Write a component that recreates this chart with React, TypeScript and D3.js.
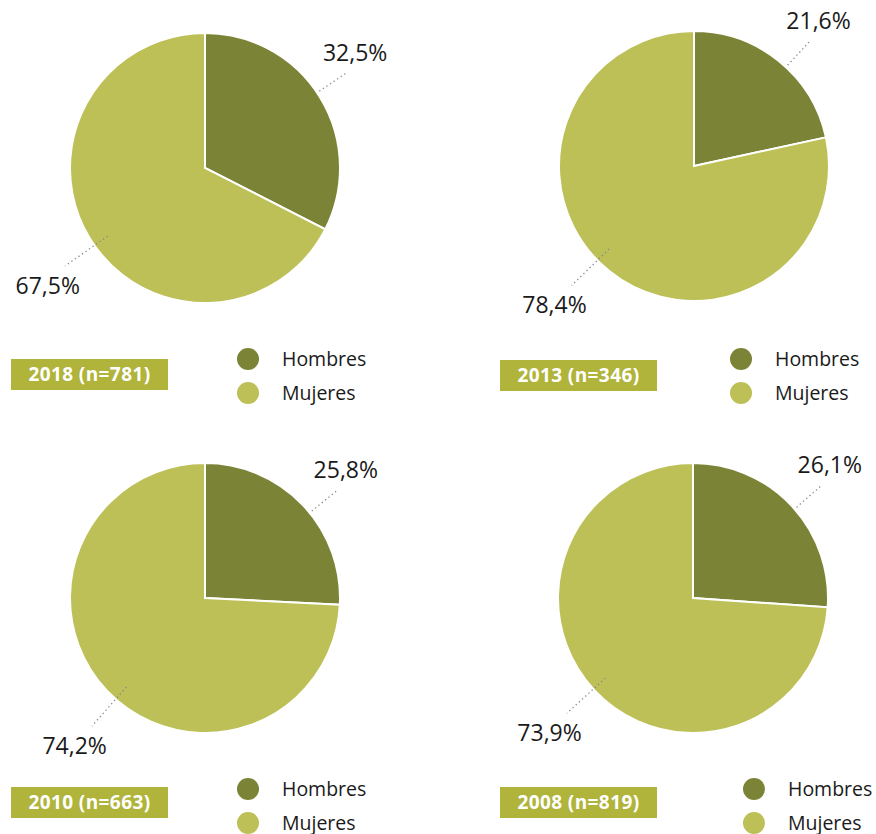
import React from "react";
import * as d3 from "d3";

const years = ["2018", "2013", "2010", "2008"];
const sampleSizes = [781, 346, 663, 819];
const categories = ["Hombres", "Mujeres"];
const hombres = [32.5, 21.6, 25.8, 26.1];
const mujeres = [67.5, 78.4, 74.2, 73.9];

const colors = ["#7b8436", "#bcc056"];
const boxColor = "#b0b43a";
const font = "'Open Sans', 'Noto Sans', sans-serif";

// layout of each panel: pie center, title box origin, legend origin, leader-angle nudges (deg)
const panels = [
  { cx: 205, cy: 168, bx: 11, by: 359, lx: 248, ly: 359, nudge: [-2.4, -3.5] },
  { cx: 694, cy: 166, bx: 500, by: 360, lx: 741, ly: 359, nudge: [4, 6.8] },
  { cx: 205, cy: 598, bx: 11, by: 787, lx: 248, ly: 789, nudge: [4.4, -5] },
  { cx: 693, cy: 598, bx: 500, by: 787, lx: 754, ly: 789, nudge: [1.8, 0.6] },
];
const R = 135;

const fmt = (v: number) => v.toFixed(1).replace(".", ",") + "%";

function Panel({ i }: { i: number }) {
  const p = panels[i];
  const values = [hombres[i], mujeres[i]];
  const pie = d3.pie<number>().sort(null).value((d) => d)(values);
  const arc = d3.arc<d3.PieArcDatum<number>>().innerRadius(0).outerRadius(R);
  return (
    <g>
      <g transform={`translate(${p.cx},${p.cy})`}>
        {pie.map((s, k) => (
          <path key={k} d={arc(s) || ""} fill={colors[k]} stroke="#fff" strokeWidth={2} />
        ))}
        {pie.map((s, k) => {
          const a = (s.startAngle + s.endAngle) / 2 + (p.nudge[k] * Math.PI) / 180;
          const r0 = k === 0 ? R * 1.02 : R * 0.88;
          const r1 = 171;
          const x0 = Math.sin(a) * r0, y0 = -Math.cos(a) * r0;
          const x1 = Math.sin(a) * r1, y1 = -Math.cos(a) * r1;
          const tx = k === 0 ? x1 - 24 : x1 + 15;
          const ty = k === 0 ? y1 - 12 : y1 + 28;
          return (
            <g key={"l" + k}>
              <line x1={x0} y1={y0} x2={x1} y2={y1} stroke="#888" strokeWidth={1.3} strokeDasharray="1.3 3" />
              <text x={tx} y={ty} textAnchor={k === 0 ? "start" : "end"} fontFamily={font} fontSize={23} fill="#1a1a1a">
                {fmt(values[k])}
              </text>
            </g>
          );
        })}
      </g>
      <rect x={p.bx} y={p.by} width={157} height={31} fill={boxColor} />
      <text x={p.bx + 78.5} y={p.by + 22} textAnchor="middle" fontFamily={font} fontWeight={700} fontSize={19} letterSpacing={0.4} fill="#fff">
        {`${years[i]} (n=${sampleSizes[i]})`}
      </text>
      {categories.map((c, k) => (
        <g key={c}>
          <circle cx={p.lx} cy={p.ly + k * 34} r={11} fill={colors[k]} />
          <text x={p.lx + 34} y={p.ly + k * 34 + 7} fontFamily={font} fontSize={19.5} fill="#1a1a1a">
            {c}
          </text>
        </g>
      ))}
    </g>
  );
}

export default function App() {
  return (
    <svg width={876} height={834} style={{ position: "absolute", left: 0, top: 0, background: "#fff" }}>
      {years.map((_, i) => (
        <Panel key={i} i={i} />
      ))}
    </svg>
  );
}
